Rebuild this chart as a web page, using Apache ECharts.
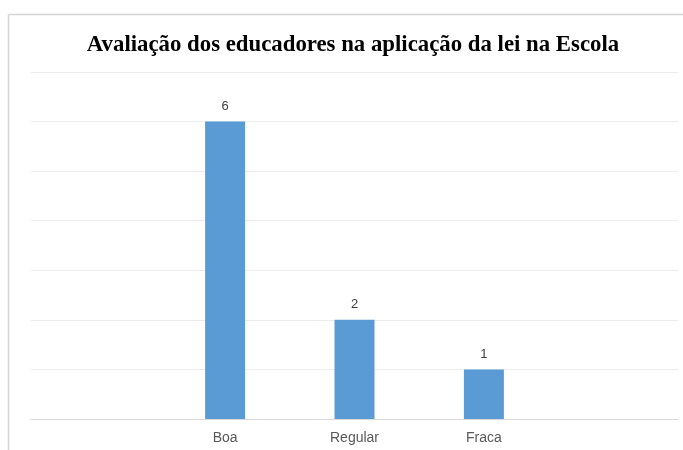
<!DOCTYPE html>
<html><head><meta charset="utf-8">
<script src="https://cdn.jsdelivr.net/npm/echarts@6/dist/echarts.min.js"></script>
<style>html,body{margin:0;padding:0;background:#fff}#c{width:683px;height:450px}</style>
</head><body><div id="c"></div>
<script>
const titleText = 'Avaliação dos educadores na aplicação da lei na Escola';
const categories = ['', 'Boa', 'Regular', 'Fraca', ''];
const values = ['-', 6, 2, 1, '-'];

const chart = echarts.init(document.getElementById('c'));
chart.setOption({
  animation: false,
  backgroundColor: '#fff',
  title: {
    text: titleText, left: 348, textAlign: 'center', top: 29,
    textStyle: {fontFamily: 'Liberation Serif', fontWeight: 'bold', fontSize: 22.8, color: '#000'}
  },
  graphic: [
    {type: 'line', shape: {x1: 8.5, y1: 14.5, x2: 683, y2: 14.5}, style: {stroke: '#d4d4d4', lineWidth: 1.5}},
    {type: 'line', shape: {x1: 8.5, y1: 14.5, x2: 8.5, y2: 450}, style: {stroke: '#d4d4d4', lineWidth: 1.5}}
  ],
  grid: {left: 31, right: 5, top: 72, bottom: 31},
  xAxis: {
    type: 'category', data: categories,
    axisLine: {lineStyle: {color: '#d9d9d9'}}, axisTick: {show: false},
    axisLabel: {color: '#595959', fontSize: 14, fontFamily: 'Liberation Sans, sans-serif', margin: 12}
  },
  yAxis: {
    type: 'value', min: 0, max: 7, interval: 1,
    axisLabel: {show: false}, axisLine: {show: false}, axisTick: {show: false},
    splitLine: {lineStyle: {color: '#ececec'}}
  },
  series: [{
    type: 'bar', data: values, barWidth: 40,
    itemStyle: {color: '#5b9bd5'},
    label: {show: true, position: 'top', distance: 9, color: '#404040', fontSize: 13, fontFamily: 'Liberation Sans, sans-serif'}
  }]
});
</script></body></html>
